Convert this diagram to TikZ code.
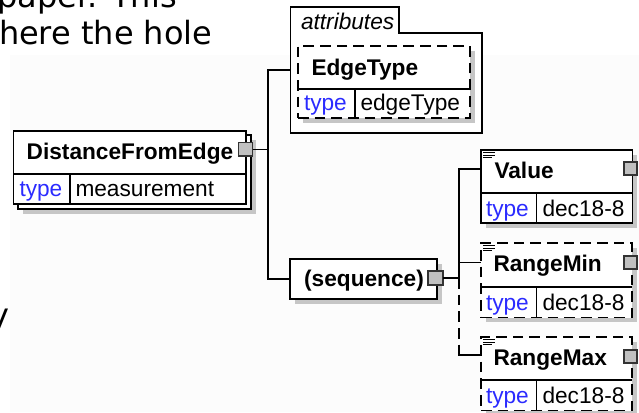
\documentclass[tikz,border=0pt]{standalone}
\usepackage{fontspec}
\setmainfont{Liberation Sans}
\newfontfamily\verd{DejaVu Sans}
\usetikzlibrary{fit}
\definecolor{shadowgray}{HTML}{C6C6C6}
\definecolor{btngray}{HTML}{C0C0C0}
\definecolor{typeblue}{HTML}{2B2BFF}
\definecolor{bgpaper}{HTML}{FCFCFC}
\tikzset{
  boxfit/.style={inner sep=0pt, outer sep=0pt},
  solidbox/.style={draw=black, fill=white, line width=0.9pt},
  dashbox/.style={draw=black, fill=white, line width=0.9pt, dash pattern=on 8pt off 4.5pt},
  btn/.style={draw=black!80, fill=btngray, line width=0.8pt},
  conn/.style={draw=black, line width=0.9pt},
  dconn/.style={draw=black, line width=0.9pt, dash pattern=on 8pt off 4.5pt},
  lbl/.style={inner sep=0pt, outer sep=0pt, font=\fontsize{17}{20}\selectfont, text=black},
  blbl/.style={lbl, font=\fontsize{17}{20}\selectfont\bfseries},
  tlbl/.style={lbl, text=typeblue},
  paper/.style={inner sep=0pt, outer sep=0pt, font=\verd\fontsize{24}{29}\selectfont, text=black},
}
\begin{document}
\begin{tikzpicture}[x=0.75pt,y=-0.75pt]
\useasboundingbox (0,0) rectangle (639,412);
\fill[white] (0,0) rectangle (639,412);
\fill[bgpaper] (10,55) rectangle (639,412);

% background document text
\node[paper, anchor=base west] (t1) at (-2.5,7) {paper. This};
\node[paper, anchor=base west] (t2) at (-1,44) {here the hole};
\node[paper, anchor=base west] (t3) at (-9.5,326) {y};

% ---------- DistanceFromEdge ----------
\fill[shadowgray] (23,140) rectangle (256,214);
\node[boxfit, fit={(18,135) (251,209)}, solidbox] (dfeback) {};
\node[boxfit, fit={(13.5,131) (246,204)}, solidbox] (dfe) {};
\node[boxfit, fit={(13.5,131) (246,174)}] (dfehead) {};
\draw[conn] (dfehead.south west) -- (dfehead.south east);
\draw[conn] (70,174) -- (70,204);
\node[blbl, anchor=base] (dfename) at (130,159) {DistanceFromEdge};
\node[tlbl, anchor=base west] (dfetype) at (19.5,196.5) {type};
\node[lbl, anchor=base west] (dfetval) at (75.5,196.5) {measurement};
\node[boxfit, fit={(238.7,142.7) (252.7,156)}, btn] (dfebtn) {};

% ---------- attributes container ----------
\node[boxfit, fit={(290.7,7) (482,133)}] (attr) {};
\draw[solidbox] (290.7,133) -- (290.7,7) -- (399,7) -- (399,33) -- (482,33) -- (482,133) -- cycle;
\node[lbl, anchor=base west, font=\fontsize{17}{20}\selectfont\itshape] (attrlbl) at (301,29) {attributes};

% EdgeType
\fill[shadowgray] (303,51) rectangle (475,123);
\node[boxfit, fit={(298,46) (470,118)}, dashbox] (edge) {};
\node[boxfit, fit={(298,46) (470,89)}] (edgehead) {};
\draw[conn] (edgehead.south west) -- (edgehead.south east);
\draw[conn] (355,89) -- (355,118);
\node[blbl, anchor=base west] (edgename) at (311.5,75) {EdgeType};
\node[tlbl, anchor=base west] (edgetype) at (304,110.7) {type};
\node[lbl, anchor=base west] (edgetval) at (360.5,110.7) {edgeType};

% ---------- sequence ----------
\fill[shadowgray] (295,264) rectangle (442,304);
\node[boxfit, fit={(290,259) (437,299)}, solidbox] (seq) {};
\node[blbl, anchor=base] (seqlbl) at (364,286.5) {(sequence)};
\node[boxfit, fit={(428,271) (443,285)}, btn] (seqbtn) {};

% ---------- Value ----------
\fill[shadowgray] (486,155) rectangle (637,228);
\node[boxfit, fit={(481,150) (632.5,223)}, solidbox] (val) {};
\node[boxfit, fit={(481,150) (632.5,193)}] (valhead) {};
\draw[conn] (valhead.south west) -- (valhead.south east);
\draw[conn] (536.7,193) -- (536.7,223);
\draw[line width=0.6pt] (483,152.5) -- (495,152.5) (483,155) -- (495,155) (483,157.5) -- (492,157.5);
\node[blbl, anchor=base west] (valname) at (494.5,178.3) {Value};
\node[tlbl, anchor=base west] (valtype) at (486,216) {type};
\node[lbl, anchor=base west] (valtval) at (542.5,216) {dec18-8};
\node[boxfit, fit={(624,162) (637,175)}, btn] (valbtn) {};

% ---------- RangeMin ----------
\fill[shadowgray] (486,248) rectangle (637,322);
\node[boxfit, fit={(481,243) (632,317.5)}, dashbox] (rmin) {};
\node[boxfit, fit={(481,243) (632,287)}] (minhead) {};
\draw[conn] (minhead.south west) -- (minhead.south east);
\draw[conn] (536.7,287) -- (536.7,317.5);
\draw[line width=0.6pt] (483,245.5) -- (495,245.5) (483,248) -- (495,248) (483,250.5) -- (492,250.5);
\node[blbl, anchor=base west] (minname) at (493.5,271.8) {RangeMin};
\node[tlbl, anchor=base west] (mintype) at (486,310) {type};
\node[lbl, anchor=base west] (mintval) at (542.5,310) {dec18-8};
\node[boxfit, fit={(624,256) (637,269)}, btn] (minbtn) {};

% ---------- RangeMax ----------
\fill[shadowgray] (486,342) rectangle (637,416);
\node[boxfit, fit={(481,337) (632,410.5)}, dashbox] (rmax) {};
\node[boxfit, fit={(481,337) (632,380)}] (maxhead) {};
\draw[conn] (maxhead.south west) -- (maxhead.south east);
\draw[conn] (536.7,380) -- (536.7,410.5);
\draw[line width=0.6pt] (483,339.5) -- (495,339.5) (483,342) -- (495,342) (483,344.5) -- (492,344.5);
\node[blbl, anchor=base west] (maxname) at (493.5,365.3) {RangeMax};
\node[tlbl, anchor=base west] (maxtype) at (486,403) {type};
\node[lbl, anchor=base west] (maxtval) at (542.5,403) {dec18-8};
\node[boxfit, fit={(624,350) (637,363)}, btn] (maxbtn) {};

% ---------- connectors ----------
\coordinate (j1) at (268,0);
\coordinate (j2) at (459,0);
\draw[conn] (dfebtn.east) -- (dfebtn.east -| j1);
\draw[conn] (attr.west) -- (attr.west -| j1) -- (seq.west -| j1) -- (seq.west);
\draw[conn] (seqbtn.east) -- (seqbtn.east -| j2);
\draw[conn] ([yshift=1.9pt]valhead.west) -- ([yshift=1.9pt]valhead.west -| j2) -- (seqbtn.east -| j2);
\draw[dconn] (seqbtn.east -| j2) -- ([yshift=2.6pt]maxhead.west -| j2);
\draw[conn] ([yshift=1.6pt]minhead.west -| j2) -- ([yshift=1.6pt]minhead.west);
\draw[conn] ([yshift=2.6pt]maxhead.west) -- ([yshift=2.6pt]maxhead.west -| j2) -- ++(0,-6);
\end{tikzpicture}
\end{document}
